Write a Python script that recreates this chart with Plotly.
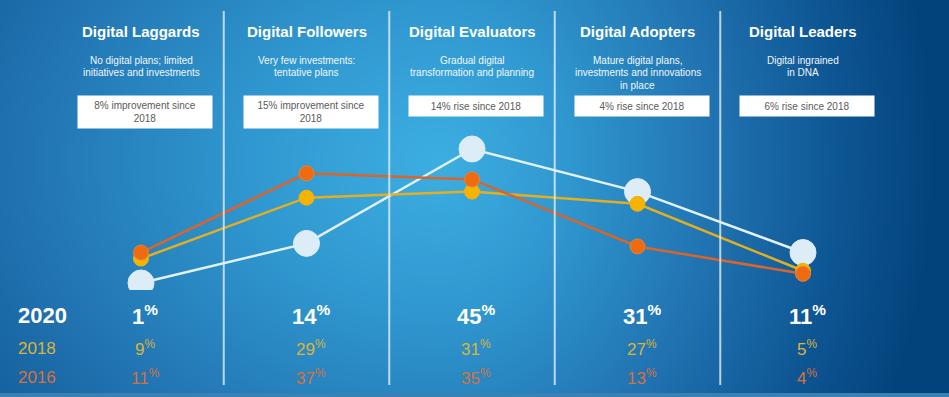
import numpy as np
import plotly.graph_objects as go

categories = ["Digital Laggards", "Digital Followers", "Digital Evaluators",
              "Digital Adopters", "Digital Leaders"]
values_2020 = [1, 14, 45, 31, 11]
values_2018 = [9, 29, 31, 27, 5]
values_2016 = [11, 37, 35, 13, 4]
descriptions = [
    ["No digital plans; limited", "initiatives and investments"],
    ["Very few investments:", "tentative plans"],
    ["Gradual digital", "transformation and planning"],
    ["Mature digital plans,", "investments and innovations", "in place"],
    ["Digital ingrained", "in DNA"],
]
box_texts = [
    "8% improvement since<br>2018",
    "15% improvement since<br>2018",
    "14% rise since 2018",
    "4% rise since 2018",
    "6% rise since 2018",
]
years = ["2020", "2018", "2016"]

W, H = 949, 397
FONT = "Arial, Liberation Sans, sans-serif"

def py(pix):
    return 1 - pix / H

fig = go.Figure()

# background gradient (decorative)
gx = np.linspace(0, W, 140)
gy = np.linspace(0, H, 60)
X, Y = np.meshgrid(gx, gy)
cx, cy = 440, 160
rx = np.where(X < cx, 720, 470)
ry = 560
T = np.sqrt(((X - cx) / rx) ** 2 + ((Y - cy) / ry) ** 2)
fig.add_trace(go.Heatmap(
    x=gx, y=gy, z=T, zmin=0, zmax=1.05, zsmooth="best", showscale=False,
    hoverinfo="skip",
    colorscale=[[0, "#3caee2"], [0.25, "#3098d0"], [0.58, "#1f70ae"],
                [0.8, "#0e5794"], [1, "#03437c"]],
    xaxis="x", yaxis="y"))

series = [
    (values_2020, "#e2f1fa", 2.5, 26, "#dcedf8", "#dcedf8"),
    (values_2018, "#e4ae22", 2.5, 15, "#f6b400", "#f0b010"),
    (values_2016, "#d8652c", 2.5, 15, "#f06a10", "#e2843a"),
]
for (vals, lc, lw, ms, mc, mlc), yr in zip(series, years):
    fig.add_trace(go.Scatter(
        x=categories, y=vals, mode="lines+markers", name=yr,
        line=dict(color=lc, width=lw),
        marker=dict(size=ms, color=mc, line=dict(color=mlc, width=1)),
        xaxis="x2", yaxis="y2", showlegend=False))

annotations = []
shapes = []
for i, cat in enumerate(categories):
    annotations.append(dict(xref="x2", yref="paper", x=cat, y=py(31), text="<b>%s</b>" % cat,
                            showarrow=False, font=dict(family=FONT, size=15, color="white"),
                            xanchor="center", yanchor="middle"))
    for j, line in enumerate(descriptions[i]):
        annotations.append(dict(xref="x2", yref="paper", x=cat, y=py(60 + 12.5 * j), text=line,
                                showarrow=False, font=dict(family=FONT, size=10, color="#f2f7fb"),
                                xanchor="center", yanchor="middle"))
    two = "<br>" in box_texts[i]
    h = 32 if two else 20
    annotations.append(dict(xref="x2", yref="paper", x=cat, xshift=4, y=py(95), text=box_texts[i],
                            showarrow=False, font=dict(family=FONT, size=10, color="#5a5a5a"),
                            xanchor="center", yanchor="top", bgcolor="white",
                            width=134, height=h, borderpad=0, align="center", valign="middle"))
    for vals, yp, sz, col, bold in [(values_2020, 315, 22, "white", True),
                                    (values_2018, 348, 17, "#dcb43a", False),
                                    (values_2016, 377, 17, "#d8703c", False)]:
        t = "%d<sup>%%</sup>" % vals[i]
        if bold:
            t = "<b>%s</b>" % t
        annotations.append(dict(xref="x2", yref="paper", x=cat, xshift=4, y=py(yp), text=t,
                                showarrow=False, font=dict(family=FONT, size=sz, color=col),
                                xanchor="center", yanchor="middle"))
    if i < len(categories) - 1:
        shapes.append(dict(type="line", xref="x2", yref="paper", x0=i + 0.5, x1=i + 0.5,
                           y0=py(11), y1=py(385), line=dict(color="rgba(225,238,248,0.8)", width=2)))

for yr, yp, sz, col, bold in [("2020", 315, 22, "white", True),
                              ("2018", 348, 17, "#dcb43a", False),
                              ("2016", 377, 17, "#d8703c", False)]:
    annotations.append(dict(xref="paper", yref="paper", x=16 / W, y=py(yp),
                            text="<b>%s</b>" % yr if bold else yr, showarrow=False,
                            font=dict(family=FONT, size=sz, color=col),
                            xanchor="left", yanchor="middle"))

shapes.append(dict(type="rect", xref="paper", yref="paper", x0=0, x1=1, y0=0, y1=py(393),
                   line=dict(width=0), fillcolor="#3a80b2", layer="above"))

fig.update_layout(
    width=W, height=H, margin=dict(l=0, r=0, t=0, b=0),
    paper_bgcolor="#1f6fae", plot_bgcolor="rgba(0,0,0,0)",
    xaxis=dict(domain=[0, 1], range=[0, W], visible=False, fixedrange=True),
    yaxis=dict(domain=[0, 1], range=[H, 0], visible=False, fixedrange=True),
    xaxis2=dict(domain=[0, 1], type="category", categoryorder="array", categoryarray=categories,
                range=[-141 / 165.5, (W - 141) / 165.5], visible=False, anchor="y2"),
    yaxis2=dict(domain=[1 - 290 / H, 1 - 100 / H], range=[-1.31, 61.08], visible=False, anchor="x2"),
    annotations=annotations, shapes=shapes, showlegend=False,
)

fig.write_html("out.html", config={"displayModeBar": False},
               post_script="document.body.style.margin='0';document.body.style.overflow='hidden';")
